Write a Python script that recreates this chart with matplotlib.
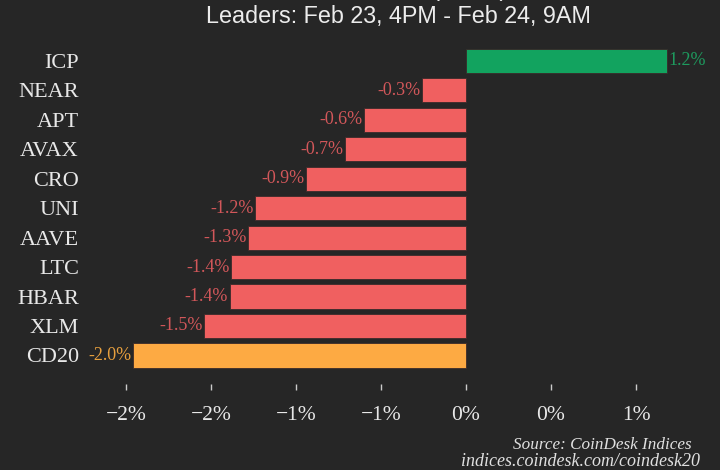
import matplotlib
matplotlib.use("Agg")
import matplotlib.pyplot as plt

# values (percent change)
coins = ["ICP", "NEAR", "APT", "AVAX", "CRO", "UNI", "AAVE", "LTC", "HBAR", "XLM", "CD20"]
changes = [1.18, -0.26, -0.60, -0.71, -0.94, -1.24, -1.28, -1.38, -1.39, -1.54, -1.96]
xticks = [-2.0, -1.5, -1.0, -0.5, 0.0, 0.5, 1.0]
xtick_labels = ["\u22122%", "\u22122%", "\u22121%", "\u22121%", "0%", "0%", "1%"]

bg = "#262626"
green, red, orange = "#12a35f", "#f06060", "#fdaa43"
green_txt, red_txt, orange_txt = "#1e9a5e", "#d2575a", "#e8a03e"

def bar_color(name, v):
    if name == "CD20":
        return orange, orange_txt
    if v >= 0:
        return green, green_txt
    return red, red_txt

W, H = 720, 470
PT = 100 / 72  # px per point
fig = plt.figure(figsize=(7.2, 4.7), dpi=100, facecolor=bg)
# zero at x=466px, 170px per 1%
x0, xlo, xhi = 466, -2.05, 1.4
left = x0 + xlo * 170
right = x0 + xhi * 170
ax = fig.add_axes([left / W, 86 / H, (right - left) / W, 340.7 / H])
ax.set_facecolor(bg)

ypos = list(range(len(coins)))
cols = [bar_color(c, v) for c, v in zip(coins, changes)]
ax.barh(ypos, changes, height=0.82, color=[c[0] for c in cols],
        edgecolor="#3a2a2a", linewidth=0.6)

for y, v, c in zip(ypos, changes, cols):
    txt = "%.1f%%" % v
    if v >= 0:
        ax.text(v + 0.01, y, txt, ha="left", va="center", color=c[1],
                family="Liberation Serif", fontsize=13)
    else:
        ax.text(v - 0.01, y, txt, ha="right", va="center", color=c[1],
                family="Liberation Serif", fontsize=13)

ax.set_xlim(xlo, xhi)
ax.set_ylim(10.97, -0.6)
ax.set_yticks(ypos)
ax.set_yticklabels(coins, family="Liberation Serif", fontsize=16, color="#e8e8e8")
ax.set_xticks(xticks)
ax.set_xticklabels(xtick_labels, family="Liberation Serif", fontsize=15.5, color="#e8e8e8")
ax.tick_params(axis="y", length=0, pad=(left - 79) / PT)
ax.tick_params(axis="x", length=4, width=1, color="#cccccc", pad=12)
for s in ax.spines.values():
    s.set_visible(False)

fig.text(400 / W, 1 + 4 / H, "CoinDesk 20 (CD20)", ha="center", va="baseline",
         color="#ececec", family="Liberation Sans", fontsize=16.8)
fig.text(398 / W, 1 - 16 / H, "Leaders: Feb 23, 4PM - Feb 24, 9AM", ha="center", va="center",
         color="#ececec", family="Liberation Sans", fontsize=16.8)
fig.text(692 / W, 1 - 445 / H, "Source: CoinDesk Indices", ha="right", va="center",
         color="#e0e0e0", family="Liberation Serif", style="italic", fontsize=12.3)
fig.text(700 / W, 1 - 462 / H, "indices.coindesk.com/coindesk20", ha="right", va="center",
         color="#e0e0e0", family="Liberation Serif", style="italic", fontsize=13)

fig.savefig("out.png", dpi=100, facecolor=bg)
